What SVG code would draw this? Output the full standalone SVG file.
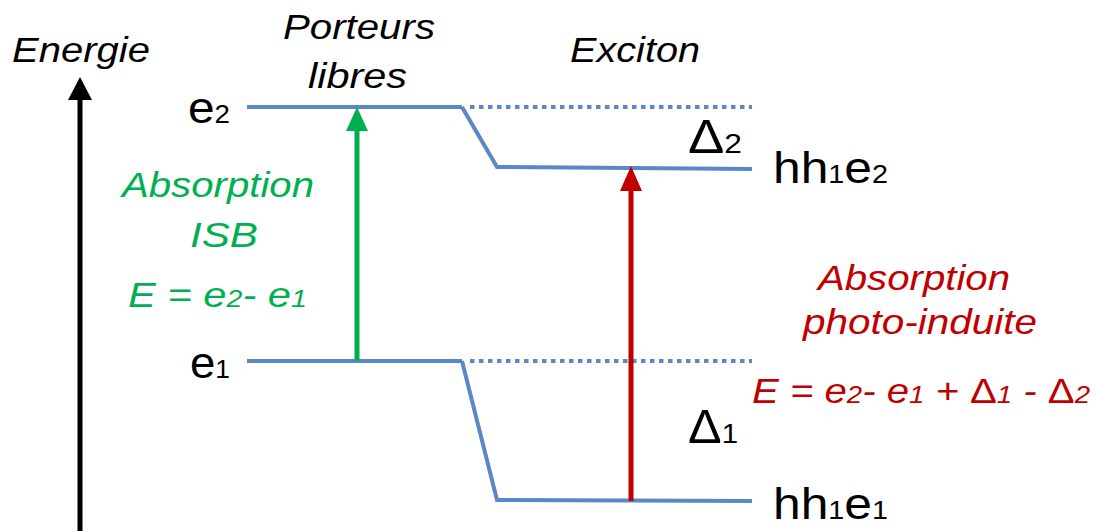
<svg xmlns="http://www.w3.org/2000/svg" width="1096" height="531" viewBox="0 0 1096 531">
<defs>
<style>
text{font-family:"Liberation Sans",Arial,sans-serif;}
.it{font-style:italic;font-size:35px;}
.up{font-style:normal;}
.lvl{stroke:#5A87C6;stroke-width:4;fill:none;}
.dot{stroke:#5A87C6;stroke-width:4;fill:none;stroke-dasharray:4.5 4.5;}
.lab{font-size:45px;fill:#000;}
.g{fill:#00B050;}
.r{fill:#C00000;}
</style>
</defs>
<rect width="1096" height="531" fill="#fff"/>
<g id="axis">
<line x1="80" y1="531" x2="80" y2="98" stroke="#000" stroke-width="5"/>
<polygon points="80,77 92,100 68,100" fill="#000"/>
<text class="it" x="12" y="62" textLength="138" lengthAdjust="spacingAndGlyphs">Energie</text>
</g>
<g id="titles">
<text class="it" x="283" y="39" textLength="152" lengthAdjust="spacingAndGlyphs">Porteurs</text>
<text class="it" x="308" y="88" textLength="99" lengthAdjust="spacingAndGlyphs">libres</text>
<text class="it" x="570" y="62" textLength="130" lengthAdjust="spacingAndGlyphs">Exciton</text>
</g>
<g id="e2">
<line class="lvl" x1="247" y1="107" x2="462" y2="107"/>
<text class="lab" x="188" y="123" textLength="42" lengthAdjust="spacingAndGlyphs">e<tspan font-size="26">2</tspan></text>
</g>
<g id="e1">
<line class="lvl" x1="247" y1="361" x2="462" y2="361"/>
<text class="lab" x="190" y="378" textLength="40" lengthAdjust="spacingAndGlyphs">e<tspan font-size="26">1</tspan></text>
</g>
<g id="hh1e2">
<polyline class="lvl" points="462,107 497,167 752,169"/>
<text class="lab" x="773" y="183" textLength="115" lengthAdjust="spacingAndGlyphs">hh<tspan font-size="26">1</tspan>e<tspan font-size="26">2</tspan></text>
</g>
<g id="hh1e1">
<polyline class="lvl" points="462,361 497,500 752,501"/>
<text class="lab" x="773" y="519" textLength="115" lengthAdjust="spacingAndGlyphs">hh<tspan font-size="26">1</tspan>e<tspan font-size="26">1</tspan></text>
</g>
<g id="connectors">
<line class="dot" x1="470" y1="107" x2="752" y2="107"/>
<line class="dot" x1="470" y1="361" x2="752" y2="361"/>
<line x1="357" y1="361" x2="357" y2="128" stroke="#00B050" stroke-width="5"/>
<polygon points="357,107 368,131 346,131" fill="#00B050"/>
<line x1="631" y1="501" x2="631" y2="188" stroke="#C00000" stroke-width="5"/>
<polygon points="631,166 642,191 620,191" fill="#C00000"/>
</g>
<g id="deltas">
<text class="lab" x="688" y="153" style="font-size:48px" textLength="54" lengthAdjust="spacingAndGlyphs">Δ<tspan font-size="28">2</tspan></text>
<text class="lab" x="688" y="443" style="font-size:48px" textLength="50" lengthAdjust="spacingAndGlyphs">Δ<tspan font-size="28">1</tspan></text>
</g>
<g id="isb">
<text class="it g" x="122" y="197" textLength="192" lengthAdjust="spacingAndGlyphs">Absorption</text>
<text class="it g" x="190" y="247" textLength="68" lengthAdjust="spacingAndGlyphs">ISB</text>
<text class="it g" x="128" y="307" textLength="179" lengthAdjust="spacingAndGlyphs">E = e<tspan font-size="24">2</tspan>- e<tspan font-size="24">1</tspan></text>
</g>
<g id="pia">
<text class="it r" x="818" y="290" textLength="192" lengthAdjust="spacingAndGlyphs">Absorption</text>
<text class="it r" x="803" y="334" textLength="234" lengthAdjust="spacingAndGlyphs">photo-induite</text>
<text class="it r" x="752" y="403" textLength="338" lengthAdjust="spacingAndGlyphs">E = e<tspan font-size="24">2</tspan>- e<tspan font-size="24">1</tspan> + <tspan class="up">Δ</tspan><tspan font-size="24">1</tspan> - <tspan class="up">Δ</tspan><tspan font-size="24">2</tspan></text>
</g>
</svg>
